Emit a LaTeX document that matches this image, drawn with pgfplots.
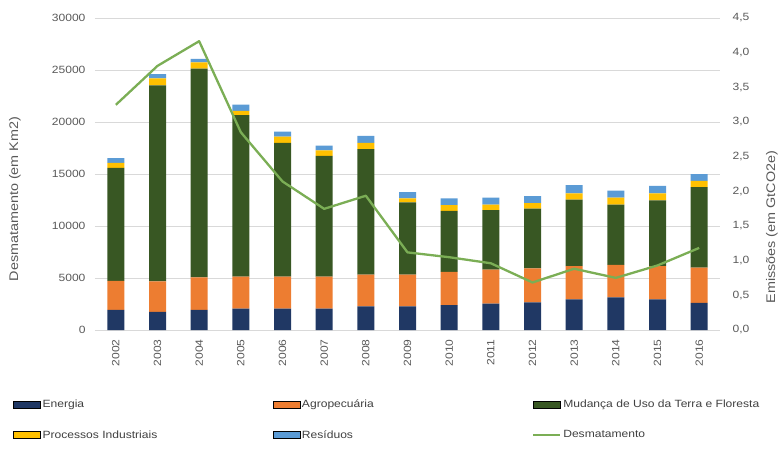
\documentclass[border=0pt]{standalone}
\usepackage{fontspec}
\setmainfont{Liberation Sans}[FakeStretch=1.15]
\usepackage{pgfplots}
\usepackage{pgfplotstable}
\pgfplotsset{compat=1.18}

\definecolor{energia}{HTML}{203864}
\definecolor{agro}{HTML}{ED7D31}
\definecolor{mudanca}{HTML}{385723}
\definecolor{proc}{HTML}{FFC000}
\definecolor{resid}{HTML}{5B9BD5}
\definecolor{desmat}{HTML}{7BAE55}
\definecolor{tickgray}{HTML}{595959}
\definecolor{leggray}{HTML}{404040}

% emissoes por setor (GtCO2e), 0 = 2002 ... 14 = 2016
\pgfplotstableread{
x E    A    M    P    R
0  0.29 0.42 1.63 0.07 0.07
1  0.26 0.44 2.83 0.10 0.06
2  0.29 0.47 3.01 0.09 0.05
3  0.31 0.46 2.33 0.06 0.09
4  0.31 0.46 1.93 0.09 0.07
5  0.31 0.46 1.74 0.08 0.07
6  0.34 0.46 1.81 0.09 0.10
7  0.34 0.46 1.04 0.06 0.09
8  0.36 0.48 0.88 0.08 0.10
9  0.38 0.49 0.86 0.08 0.10
10 0.40 0.49 0.86 0.08 0.10
11 0.44 0.48 0.96 0.09 0.12
12 0.47 0.47 0.87 0.10 0.10
13 0.44 0.48 0.95 0.10 0.11
14 0.39 0.51 1.16 0.09 0.10
}\emissoes

% desmatamento (km2)
\pgfplotstableread{
x  D
0  21651
1  25396
2  27772
3  19014
4  14286
5  11651
6  12911
7  7464
8  7000
9  6418
10 4571
11 5891
12 5012
13 6207
14 7893
}\desmat

\pgfplotsset{
  base/.style={
    scale only axis, width=625pt, height=312pt,
    at={(0,0)}, anchor=south west,
    xmin=-0.5, xmax=14.5,
    major tick length=0pt,
    axis line style={draw=none},
    scaled y ticks=false,
    /pgf/number format/assume math mode=true,
    ticklabel style={font=\fontsize{10.5}{12}\selectfont, text=tickgray},
    label style={font=\fontsize{12.5}{14}\selectfont, text=tickgray},
  },
  swatch/.style={legend image code/.code={\fill[##1] (0pt,-3.5pt) rectangle (27pt,3.5pt);}},
  linesw/.style={legend image code/.code={\draw[##1] (0pt,0pt) -- (27pt,0pt);}},
}

\begin{document}
\begin{tikzpicture}
\useasboundingbox (-95pt,-121pt) rectangle (684pt,330pt);

% grade e eixo esquerdo
\begin{axis}[base,
  ymin=0, ymax=30000,
  ytick={0,5000,10000,15000,20000,25000,30000},
  /pgf/number format/1000 sep={},
  ymajorgrids, grid style={draw=gray!30, line width=0.8pt},
  yticklabel shift=6pt,
  xtick={0,...,14},
  xticklabels={2002,2003,2004,2005,2006,2007,2008,2009,2010,2011,2012,2013,2014,2015,2016},
  xticklabel style={rotate=90, anchor=east},
  xticklabel shift=6pt,
  ylabel={Desmatamento (em Km2)},
  ylabel style={at={(rel axis cs:0,0.42)}, anchor=center, yshift=80pt},
]
\addplot[draw=none] table[x=x, y=D] {\desmat};
\end{axis}

% barras empilhadas, eixo direito
\begin{axis}[base,
  ybar stacked, bar width=17pt,
  ymin=0, ymax=4.5,
  ytick={0,0.5,1,1.5,2,2.5,3,3.5,4,4.5},
  axis y line*=right, hide x axis,
  /pgf/number format/fixed, /pgf/number format/fixed zerofill,
  /pgf/number format/precision=1, /pgf/number format/use comma,
  yticklabel shift=9pt,
  ylabel={Emiss\~oes (em GtCO2e)},
  ylabel style={at={(rel axis cs:1,0.33)}, anchor=center, yshift=-52pt},
]
\addplot[fill=energia, draw=none] table[x=x, y=E] {\emissoes};
\addplot[fill=agro, draw=none] table[x=x, y=A] {\emissoes};
\addplot[fill=mudanca, draw=none] table[x=x, y=M] {\emissoes};
\addplot[fill=proc, draw=none] table[x=x, y=P] {\emissoes};
\addplot[fill=resid, draw=none] table[x=x, y=R] {\emissoes};
\end{axis}

% linha de desmatamento e legenda
\begin{axis}[base,
  ymin=0, ymax=30000, hide axis,
  legend columns=3,
  legend style={draw=none, fill=none, at={(rel axis cs:0,0)}, anchor=north west,
    xshift=-82pt, yshift=-68pt, inner sep=0pt, row sep=17pt,
    font=\fontsize{10.5}{12}\selectfont, text=leggray,
    cells={anchor=west}},
]
\addlegendimage{swatch, fill=energia}
\addlegendentry{\makebox[228pt][l]{Energia}}
\addlegendimage{swatch, fill=agro}
\addlegendentry{\makebox[228pt][l]{Agropecuária}}
\addlegendimage{swatch, fill=mudanca}
\addlegendentry{Mudança de Uso da Terra e Floresta}
\addlegendimage{swatch, fill=proc}
\addlegendentry{\makebox[228pt][l]{Processos Industriais}}
\addlegendimage{swatch, fill=resid}
\addlegendentry{\makebox[228pt][l]{Resíduos}}
\addplot[desmat, line width=2.3pt, line join=round, linesw] table[x=x, y=D] {\desmat};
\addlegendentry{Desmatamento}
\end{axis}
\end{tikzpicture}
\end{document}
